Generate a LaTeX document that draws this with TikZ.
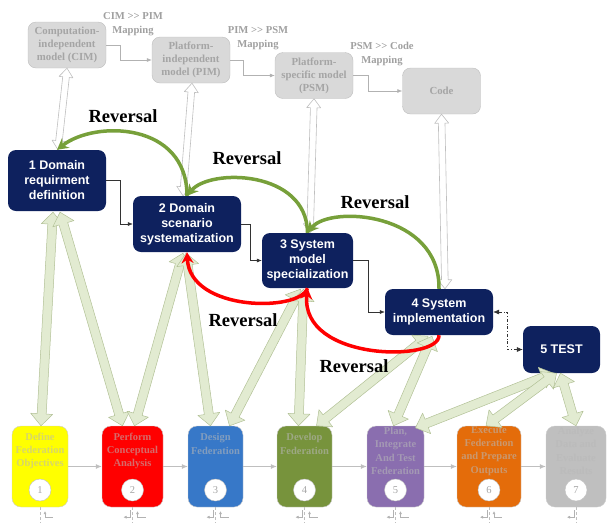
\documentclass[tikz,border=0pt]{standalone}
\usepackage{fontspec}
\setmainfont{Liberation Serif}
\setsansfont{Liberation Sans}
\usetikzlibrary{arrows.meta,calc,positioning}

\definecolor{navybox}{RGB}{14,33,94}
\definecolor{modelfill}{RGB}{217,217,217}
\definecolor{modeldraw}{RGB}{190,190,190}
\definecolor{modeltext}{RGB}{165,165,165}
\definecolor{maptext}{RGB}{160,160,160}
\definecolor{revgreen}{RGB}{119,160,58}
\definecolor{blockfill}{RGB}{226,235,209}
\definecolor{blockdraw}{RGB}{178,193,150}
\definecolor{fedgray}{gray}{0.72}
\definecolor{fedyellow}{RGB}{255,255,0}
\definecolor{fedred}{RGB}{255,0,0}
\definecolor{fedblue}{RGB}{55,120,200}
\definecolor{fedgreen}{RGB}{119,147,60}
\definecolor{fedpurple}{RGB}{138,110,175}
\definecolor{fedorange}{RGB}{228,108,10}
\definecolor{fedsilver}{RGB}{191,191,191}

\newcommand{\dblgt}{>\kern0pt>}
% style, head length, head half width, shaft half width, from, to
\newcommand{\blockarrow}[6]{%
  \draw[#1] let \p1=(#5), \p2=(#6), \n1={atan2(\y2-\y1,\x2-\x1)} in
    (\p1) -- ($(\p1)+(\n1:#2)+(\n1+90:#3)$) -- ($(\p1)+(\n1:#2)+(\n1+90:#4)$)
    -- ($(\p2)+(\n1:-#2)+(\n1+90:#4)$) -- ($(\p2)+(\n1:-#2)+(\n1+90:#3)$) -- (\p2)
    -- ($(\p2)+(\n1:-#2)+(\n1-90:#3)$) -- ($(\p2)+(\n1:-#2)+(\n1-90:#4)$)
    -- ($(\p1)+(\n1:#2)+(\n1-90:#4)$) -- ($(\p1)+(\n1:#2)+(\n1-90:#3)$) -- cycle;}

\tikzset{
  modelbox/.style={draw=modeldraw, fill=modelfill, rounded corners=8pt, minimum width=78pt,
    minimum height=46pt, inner sep=0pt, align=center, text=modeltext,
    font=\bfseries\fontsize{10.8}{13}\selectfont},
  mapnote/.style={align=center, text=maptext, font=\bfseries\fontsize{10.6}{14}\selectfont},
  stagebox/.style={fill=navybox, rounded corners=8pt, inner sep=0pt, align=center, text=white,
    font=\sffamily\bfseries\fontsize{12.5}{15}\selectfont},
  fedbox/.style={fill=#1, draw=gray!40, rounded corners=9pt, minimum width=57pt,
    minimum height=81pt, inner sep=0pt},
  fedtext/.style={text=#1!42!fedgray, align=center, font=\bfseries\fontsize{10.5}{13.3}\selectfont},
  numcirc/.style={circle, fill=white, draw=gray!50, minimum size=22pt, inner sep=0pt,
    text=gray!70, font=\fontsize{10.5}{12}\selectfont},
  revnote/.style={font=\bfseries\fontsize{18.5}{20}\selectfont},
  flow/.style={-{Latex[length=5pt,width=4pt]}, black!80, line width=0.5pt},
  mapflow/.style={-{Latex[length=5pt,width=4pt]}, gray!60, line width=0.6pt},
  fedflow/.style={-{Latex[length=6pt,width=5pt]}, gray!50, line width=0.8pt},
  hook/.style={-{Latex[length=3pt,width=3pt]}, gray!60, line width=0.5pt},
  greenrev/.style={-{Stealth[length=11pt,width=12pt]}, revgreen, line width=3.5pt},
  redrev/.style={-{Stealth[length=11pt,width=12pt]}, red, line width=3.5pt},
  greenblock/.style={fill=blockfill, draw=blockdraw, line width=0.5pt, line join=round},
  whiteblock/.style={fill=white, draw=gray!50, line width=0.6pt, line join=round},
}

\begin{document}
\begin{tikzpicture}[x=1pt,y=-1pt]
\useasboundingbox (0,0) rectangle (607,523);

% model chain
\node[modelbox] (cim) at (67,45) {Computation-\\independent\\model (CIM)};
\node[modelbox] (pim) at (191,60) {Platform-\\independent\\model (PIM)};
\node[modelbox] (psm) at (314,75.5) {Platform-\\specific model\\(PSM)};
\node[modelbox] (code) at (441.5,91) {Code};
\node[mapnote] (m1) at (133,24) {CIM \dblgt{} PIM\\Mapping};
\node[mapnote] (m2) at (258,38) {PIM \dblgt{} PSM\\Mapping};
\node[mapnote] (m3) at (382,54) {PSM \dblgt{} Code\\Mapping};
\draw[mapflow] (cim.east) -- ++(14,0) |- (pim.west);
\draw[mapflow] (pim.east) -- ++(13,0) |- (psm.west);
\draw[mapflow] (psm.east) -- ++(15,0) |- (code.west);

% domain stages
\node[stagebox, minimum width=98pt, minimum height=61pt] (d1) at (57,180.5) {1 Domain\\requirment\\definition};
\node[stagebox, minimum width=108pt, minimum height=56pt] (d2) at (187,224) {2 Domain\\scenario\\systematization};
\node[stagebox, minimum width=91pt, minimum height=55pt] (d3) at (307.5,260.5) {3 System\\model\\specialization};
\node[stagebox, minimum width=108pt, minimum height=46pt] (d4) at (439,312) {4 System\\implementation};
\node[stagebox, minimum width=77pt, minimum height=47pt] (d5) at (561.5,349.5) {5 TEST};
\draw[flow] (d1.east) -- ++(14,0) |- (d2.west);
\draw[flow] (d2.east) -- ++(9,0) |- (d3.west);
\draw[flow] (d3.east) -- ++(15,0) |- (d4.west);
\draw[flow, {Latex[length=6pt,width=5pt]}-{Latex[length=6pt,width=5pt]}, dash dot] (d4.east) -- ++(14,0) |- (d5.west);

% federation steps
\node[fedbox=fedyellow, minimum width=56pt] (f1) at (40,466.5) {};
\node[fedbox=fedred, minimum width=61pt] (f2) at (132.5,466.5) {};
\node[fedbox=fedblue, minimum width=55pt] (f3) at (215.5,466.5) {};
\node[fedbox=fedgreen, minimum width=55pt] (f4) at (304.5,466.5) {};
\node[fedbox=fedpurple, minimum width=57pt] (f5) at (395.5,466.5) {};
\node[fedbox=fedorange, minimum width=64pt] (f6) at (489,466.5) {};
\node[fedbox=fedsilver, minimum width=60pt] (f7) at (576,466.5) {};
\node[fedtext=fedyellow] (t1) at (40,451) {Define\\Federation\\Objectives};
\node[fedtext=fedred] (t2) at (132.5,451) {Perform\\Conceptual\\Analysis};
\node[fedtext=fedblue] (t3) at (215.5,444) {Design\\Federation};
\node[fedtext=fedgreen] (t4) at (304.5,444) {Develop\\Federation};
\node[fedtext=fedpurple] (t5) at (395.5,451) {Plan,\\Integrate\\And Test\\Federation};
\node[fedtext=fedorange] (t6) at (489,451) {Execute\\Federation\\and Prepare\\Outputs};
\node[fedtext=fedsilver] (t7) at (576,451) {Analyze\\Data and\\Evaluate\\Results};
\foreach \i/\x in {1/40,2/132.5,3/215.5,4/304.5,5/395.5,6/489,7/576}
  \node[numcirc] (n\i) at (\x,490) {\i};
\foreach \a/\b in {f1/f2,f2/f3,f3/f4,f4/f5,f5/f6,f6/f7}
  \draw[fedflow] (\a.east) -- (\b.west);
\foreach \f in {f1,f2,f3,f4,f5,f6,f7}
  \draw[gray!50, densely dashed] (\f.south) -- ++(0,16);
\foreach \f in {f2,f3,f4,f5,f6,f7}
  \draw[hook] ($(\f.south)+(-2,3)$) -- ++(0,7) -- ++(-7,0);
\foreach \f in {f1,f2,f3,f4,f5,f6}
  \draw[hook] ($(\f.south)+(13,10)$) -- ++(-8,0) -- ++(0,-6);

% mapping links
\blockarrow{whiteblock}{9pt}{7pt}{3.3pt}{cim.south}{$(d1.north)+(1,0)$}
\blockarrow{whiteblock}{9pt}{7pt}{3.3pt}{$(pim.south)+(1,0)$}{$(d2.north)+(-4,0)$}
\blockarrow{whiteblock}{9pt}{7pt}{3.3pt}{psm.south}{$(d3.north)+(2.5,0)$}
\blockarrow{whiteblock}{9pt}{7pt}{3.3pt}{code.south}{$(d4.north)+(6,0)$}

% stage to step links
\blockarrow{greenblock}{12pt}{11pt}{4.5pt}{$(d1.south)+(-4,1)$}{$(f1.north)+(1,0)$}
\blockarrow{greenblock}{12pt}{11pt}{4.5pt}{$(d1.south)+(3,1)$}{$(f2.north)+(-10,0)$}
\blockarrow{greenblock}{12pt}{11pt}{4.5pt}{$(d2.south)+(-4,1)$}{$(f2.north)+(2,0)$}
\blockarrow{greenblock}{12pt}{11pt}{4.5pt}{$(d2.south)+(-1,1)$}{$(f3.north)+(-5,0)$}
\blockarrow{greenblock}{12pt}{11pt}{4.5pt}{$(d3.south)+(-7,1)$}{$(f3.north)+(14,0)$}
\blockarrow{greenblock}{12pt}{11pt}{4.5pt}{$(d3.south)+(-4,1)$}{$(f4.north)+(-6,0)$}
\blockarrow{greenblock}{12pt}{11pt}{4.5pt}{$(d4.south)+(-11,1)$}{$(f4.north)+(12,0)$}
\blockarrow{greenblock}{12pt}{11pt}{4.5pt}{$(d4.south)+(-7,1)$}{$(f5.north)+(-2,0)$}
\blockarrow{greenblock}{12pt}{11pt}{4.5pt}{$(d5.south)+(-8,0)$}{$(f5.north)+(20,2)$}
\blockarrow{greenblock}{12pt}{11pt}{4.5pt}{$(d5.south)+(-5,0)$}{$(f6.north)+(-3,0)$}
\blockarrow{greenblock}{12pt}{11pt}{4.5pt}{$(d5.south)+(-1,0)$}{f7.north}

% reversals
\draw[greenrev] (d2.north) .. controls (187,122) and (95,120) .. (d1.north);
\draw[greenrev] (d3.north) .. controls (307,170) and (210,168) .. (d2.north);
\draw[greenrev] (d4.north) .. controls (440,212) and (330,205) .. (d3.north);
\draw[redrev] (d3.south) .. controls (300,312) and (190,312) .. (d2.south);
\draw[redrev] (d4.south) .. controls (440,362) and (300,362) .. (d3.south);
\node[revnote] (r1) at (123,116) {Reversal};
\node[revnote] (r2) at (247,158) {Reversal};
\node[revnote] (r3) at (375,202) {Reversal};
\node[revnote] (r4) at (243,320) {Reversal};
\node[revnote] (r5) at (354,366) {Reversal};
\end{tikzpicture}
\end{document}
